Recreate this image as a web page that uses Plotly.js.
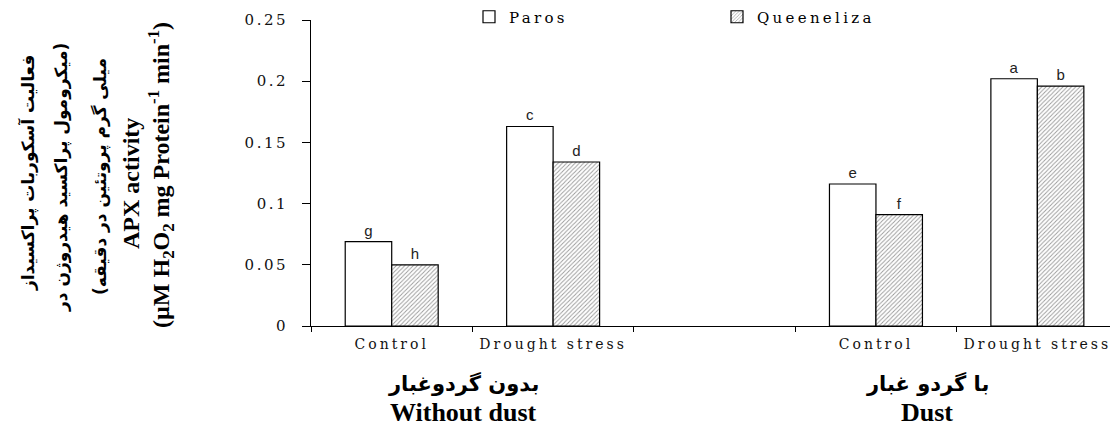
<!DOCTYPE html>
<html>
<head>
<meta charset="utf-8">
<script src="https://cdn.plot.ly/plotly-3.0.1.min.js"></script>
<style>
  html, body { margin: 0; padding: 0; background: #fff; }
  #chart { width: 1110px; height: 430px; }
  .xtick text { letter-spacing: 3px; }
  .ytick text { letter-spacing: 2.5px; }
  .legendtext { letter-spacing: 3.3px; }
</style>
</head>
<body>
<div id="chart"></div>
<script>
// ---- data ----
const categoryKeys   = ['WD_Control', 'WD_Drought', 'Gap', 'D_Control', 'D_Drought'];
const categoryLabels = ['Control', 'Drought stress', ' ', 'Control', 'Drought stress'];
const seriesNames    = ['Paros', 'Queeneliza'];
const parosValues    = [0.069, 0.163, null, 0.116, 0.202];
const queenValues    = [0.050, 0.134, null, 0.091, 0.196];
const parosLetters   = ['g', 'c', null, 'e', 'a'];
const queenLetters   = ['h', 'd', null, 'f', 'b'];
const yTicks         = [0, 0.05, 0.1, 0.15, 0.2, 0.25];
const groupLabelsFa  = ['بدون گردوغبار', 'با گردو غبار'];
const groupLabelsEn  = ['Without dust', 'Dust'];
const yTitleFa       = ['فعالیت آسکوربات پراکسیداز',
                        '\u200F(میکرومول پراکسید هیدروژن در\u200F',
                        '\u200Fمیلی گرم پروتئین در دقیقه)\u200F'];
const yTitleEn       = ['APX activity',
                        '(µM H<sub>2</sub>O<sub>2</sub> mg Protein<sup>-1</sup> min<sup>-1</sup>)'];

// ---- traces ----
const letterFont = { family: 'Liberation Sans, Arial, sans-serif', size: 15, color: '#222' };
const traces = [
  {
    type: 'bar', name: seriesNames[0], x: categoryKeys, y: parosValues,
    text: parosLetters, textposition: 'outside', textfont: letterFont, cliponaxis: false,
    marker: { color: '#ffffff', line: { color: '#000', width: 1.2 } },
    hoverinfo: 'y'
  },
  {
    type: 'bar', name: seriesNames[1], x: categoryKeys, y: queenValues,
    text: queenLetters, textposition: 'outside', textfont: letterFont, cliponaxis: false,
    marker: {
      color: '#ffffff', line: { color: '#000', width: 1.2 },
      pattern: { shape: '/', fgcolor: '#9a9a9a', bgcolor: '#ffffff', size: 3, solidity: 0.3 }
    },
    hoverinfo: 'y'
  }
];

// ---- annotations ----
const L = 311, W = 799, B = 326, H = 306;
const px = v => (v - L) / W;
const py = v => (B - v) / H;
const annotations = [];
const faX = [28, 62, 100], faY = [173, 178, 177];
yTitleFa.forEach((t, i) => annotations.push({
  text: '<b>' + t + '</b>', xref: 'paper', yref: 'paper', x: px(faX[i]), y: py(faY[i]),
  xanchor: 'center', yanchor: 'middle', textangle: -90, showarrow: false,
  font: { family: 'DejaVu Sans', size: 17, color: '#000' }
}));
const enX = [131, 161], enY = [184, 175];
yTitleEn.forEach((t, i) => annotations.push({
  text: '<b>' + t + '</b>', xref: 'paper', yref: 'paper', x: px(enX[i]), y: py(enY[i]),
  xanchor: 'center', yanchor: 'middle', textangle: -90, showarrow: false,
  font: { family: 'Liberation Serif, Times New Roman, serif', size: 24, color: '#000' }
}));
const grpX = [463, 927];
groupLabelsFa.forEach((t, i) => annotations.push({
  text: '<b>' + t + '</b>', xref: 'paper', yref: 'paper', x: px(grpX[i]), y: py(383),
  xanchor: 'center', yanchor: 'middle', showarrow: false,
  font: { family: 'DejaVu Sans', size: 21, color: '#000' }
}));
groupLabelsEn.forEach((t, i) => annotations.push({
  text: '<b>' + t + '</b>', xref: 'paper', yref: 'paper', x: px(grpX[i]), y: py(413),
  xanchor: 'center', yanchor: 'middle', showarrow: false,
  font: { family: 'Liberation Serif, Times New Roman, serif', size: 26, color: '#000' }
}));

const layout = {
  width: 1110, height: 430,
  margin: { l: L, r: 0, t: 20, b: 104, pad: 0 },
  paper_bgcolor: '#fff', plot_bgcolor: '#fff',
  barmode: 'group', bargap: 0.424, bargroupgap: 0,
  showlegend: true,
  legend: {
    orientation: 'h', x: px(469), xanchor: 'left', y: py(17), yanchor: 'middle',
    entrywidth: 203, entrywidthmode: 'pixels',
    font: { family: 'DejaVu Serif, serif', size: 15, color: '#000' },
    bgcolor: 'rgba(0,0,0,0)'
  },
  xaxis: {
    type: 'category', range: [-0.5, 4.45],
    tickmode: 'array', tickvals: categoryKeys, ticktext: categoryLabels,
    tickson: 'boundaries', ticks: 'outside', ticklen: 5, tickcolor: '#000',
    ticklabelstandoff: 5,
    showline: true, linecolor: '#000', linewidth: 1, showgrid: false, zeroline: false,
    tickfont: { family: 'DejaVu Serif, serif', size: 14, color: '#111' }
  },
  yaxis: {
    range: [0, 0.25], tickmode: 'array', tickvals: yTicks,
    ticks: 'outside', ticklen: 8, tickcolor: '#000', ticklabelstandoff: 11,
    showline: true, linecolor: '#000', linewidth: 1, showgrid: false, zeroline: false,
    tickfont: { family: 'DejaVu Serif, serif', size: 15, color: '#111' }
  },
  annotations: annotations
};

Plotly.newPlot('chart', traces, layout, { displayModeBar: false, staticPlot: true });
</script>
</body>
</html>
